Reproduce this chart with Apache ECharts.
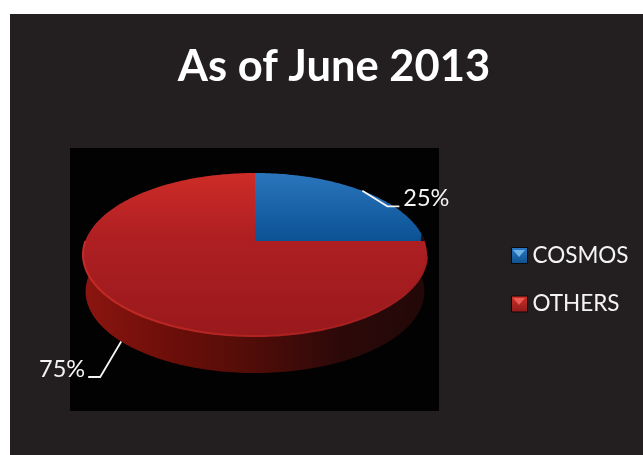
<!DOCTYPE html>
<html>
<head>
<meta charset="utf-8">
<style>html,body{margin:0;padding:0;background:#fff}#chart{width:643px;height:455px}</style>
<script src="https://cdn.jsdelivr.net/npm/echarts@6/dist/echarts.min.js"></script>
</head>
<body>
<div id="chart"></div>
<script>
const categories = ['COSMOS', 'OTHERS'];
const shareValues = [25, 75];
const titleText = 'As of June 2013';

const total = shareValues.reduce((a, b) => a + b, 0);

// Perspective view of the pie disc: apex position, radii and foreshortening.
const view = { cx: 255, cy: 241, bx: 169.6, by: 79.3, k: -0.1656, depth: 37, baseScale: 0.985 };

function project(angle, depth) {
  const X = Math.sin(angle), Y = -Math.cos(angle), w = 1 + view.k * Y;
  const s = depth ? view.baseScale : 1;
  return [view.cx + s * view.bx * X / w, view.cy + view.by * Y / w + (depth || 0)];
}
function arc(a0, a1, depth) {
  const pts = [], n = Math.max(2, Math.ceil(Math.abs(a1 - a0) / 0.02));
  for (let i = 0; i <= n; i++) pts.push(project(a0 + (a1 - a0) * i / n, depth));
  return pts;
}
const toAngle = v => v / total * Math.PI * 2;
const vGrad = stops => ({ type: 'linear', x: 0, y: 0, x2: 0, y2: 1, colorStops: stops });
const hGrad = stops => ({ type: 'linear', x: 0, y: 0, x2: 1, y2: 0, colorStops: stops });

const faceFill = [
  vGrad([{ offset: 0, color: '#2b75bd' }, { offset: 1, color: '#0b5294' }]),
  vGrad([{ offset: 0, color: '#cd2c27' }, { offset: 0.4, color: '#ae1f22' }, { offset: 1, color: '#99191c' }])
];
const wallFill = hGrad([
  { offset: 0, color: '#8c1510' }, { offset: 0.25, color: '#6d0e09' }, { offset: 0.45, color: '#560d08' },
  { offset: 0.75, color: '#2c0909' }, { offset: 1, color: '#220808' }
]);
const rimStroke = hGrad([
  { offset: 0, color: '#c42b27' }, { offset: 0.5, color: '#b02322' }, { offset: 1, color: '#a01c1e' }
]);

// Leader line bends and label anchors, relative to where the line leaves the slice.
const leaders = [
  { wall: 0, bend: [25, 15.5], end: [37, 15.5], text: [41, 7.5], align: 'left' },
  { wall: 1, bend: [-21, 35.5], end: [-33, 35.5], text: [-36, 27.5], align: 'right' }
];

function renderSlice(index) {
  return function (params, api) {
    const value = api.value(0);
    const before = shareValues.slice(0, index).reduce((a, b) => a + b, 0);
    const a0 = toAngle(before), a1 = toAngle(before + value);
    const children = [];

    // Side wall is only seen along the front of the disc, which belongs to the larger slice.
    if (a1 - a0 > Math.PI) {
      const from = Math.PI * 0.47, to = Math.PI * 1.53;
      children.push({
        type: 'polygon',
        shape: { points: arc(from, to, view.depth).concat(arc(to, from, 0)) },
        style: { fill: wallFill }
      });
    }
    children.push({
      type: 'polygon',
      shape: { points: [[view.cx, view.cy]].concat(arc(a0, a1, 0)) },
      style: { fill: faceFill[index] }
    });
    if (a1 - a0 > Math.PI) {
      children.push({
        type: 'polyline',
        shape: { points: arc(Math.PI * 0.56, Math.PI * 1.5, 0) },
        style: { fill: 'none', stroke: rimStroke, lineWidth: 2 }
      });
    }

    const lead = leaders[index];
    const start = project((a0 + a1) / 2, lead.wall ? view.depth : 0);
    children.push({
      type: 'polyline',
      shape: { points: [start, [start[0] + lead.bend[0], start[1] + lead.bend[1]], [start[0] + lead.end[0], start[1] + lead.end[1]]] },
      style: { fill: 'none', stroke: '#f4f4f4', lineWidth: 1.8 }
    });
    children.push({
      type: 'text',
      style: {
        text: Math.round(value / total * 100) + '%',
        x: start[0] + lead.text[0], y: start[1] + lead.text[1],
        align: lead.align, verticalAlign: 'middle',
        fill: '#f4f4f4', font: '23.5px Lato'
      }
    });
    return { type: 'group', children };
  };
}

const legendIcon = [
  vGrad([{ offset: 0, color: '#2a7cc6' }, { offset: 1, color: '#0f4f8c' }]),
  vGrad([{ offset: 0, color: '#d03028' }, { offset: 1, color: '#8e1a1c' }])
];

const chart = echarts.init(document.getElementById('chart'), null, { renderer: 'canvas' });
chart.setOption({
  animation: false,
  backgroundColor: '#ffffff',
  title: {
    text: titleText, left: 329, top: 62, textAlign: 'center', textVerticalAlign: 'middle',
    textStyle: { color: '#ffffff', fontFamily: 'Lato', fontWeight: 'bold', fontSize: 43.5 }
  },
  legend: {
    orient: 'vertical', left: 506, top: 239, itemWidth: 16, itemHeight: 16, itemGap: 25.5,
    textStyle: { color: '#f4f4f4', fontFamily: 'Lato', fontSize: 22.5 },
    data: categories.map((name, i) => ({
      name, icon: 'rect',
      itemStyle: { color: legendIcon[i], borderColor: '#0a0a0a', borderWidth: 1 }
    }))
  },
  graphic: {
    elements: [
      { type: 'rect', z: -10, silent: true, shape: { x: 10, y: 14, width: 633, height: 441 }, style: { fill: '#231f20' } },
      { type: 'rect', z: -9, silent: true, shape: { x: 70, y: 148, width: 369, height: 263 }, style: { fill: '#020202' } },
      { type: 'polygon', z: 10, silent: true, shape: { points: [[513, 250], [525, 250], [519, 257]] }, style: { fill: '#6fb2e6' } },
      { type: 'polygon', z: 10, silent: true, shape: { points: [[513, 298], [525, 298], [519, 305]] }, style: { fill: '#ea5a52' } }
    ]
  },
  series: categories.map((name, i) => ({
    type: 'custom',
    name,
    coordinateSystem: 'none',
    silent: true,
    itemStyle: { color: i ? '#ae1f22' : '#1c64a8' },
    data: [[shareValues[i]]],
    renderItem: renderSlice(i)
  }))
});
</script>
</body>
</html>
